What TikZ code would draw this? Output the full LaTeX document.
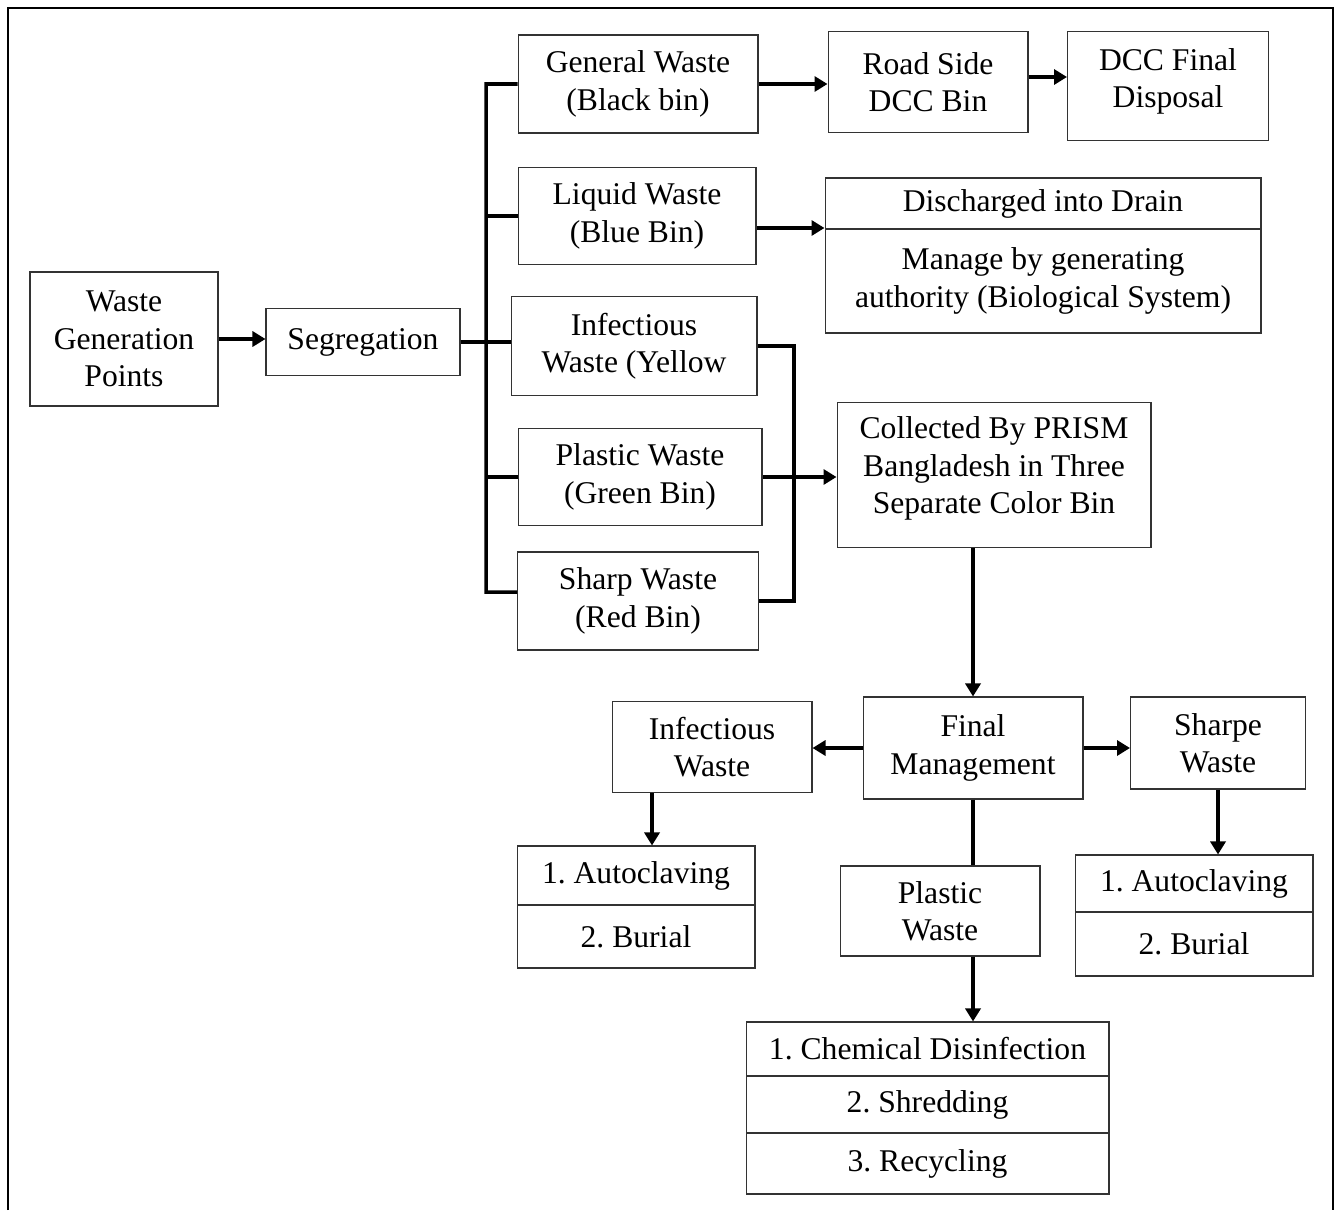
\documentclass[tikz,border=0pt]{standalone}
\usepackage{fontspec}
\setmainfont{Liberation Serif}
\usepackage{tikz}
\usetikzlibrary{arrows.meta}

\begin{document}
\begin{tikzpicture}[x=0.02cm,y=-0.02cm]
   \tikzstyle{myBox}=[draw=black!80, line width=0.6pt, align=center, inner sep=1pt,
                      font=\fontsize{18}{21.3}\selectfont\frenchspacing]
   \tikzstyle{myArr}=[line width=2pt, -{Triangle[length=0.26cm,width=0.3cm]}]
   \tikzstyle{myLine}=[line width=2pt]

   \useasboundingbox (0,0) rectangle (1338,1210);
   \draw[line width=1.2pt] (8,1210) -- (8,8) -- (1333,8) -- (1333,1210);

   % first column
   \node[myBox, minimum width=3.76cm, minimum height=2.68cm] (wgp) at (124,339) {Waste\\Generation\\Points};
   \node[myBox, minimum width=3.88cm, minimum height=1.34cm] (seg) at (363,342) {Segregation};

   % bins
   \node[myBox, minimum width=4.8cm, minimum height=1.96cm] (general) at (638,84) {General Waste\\(Black bin)};
   \node[myBox, minimum width=4.76cm, minimum height=1.94cm] (liquid) at (637,216) {Liquid Waste\\(Blue Bin)};
   \node[myBox, minimum width=4.92cm, minimum height=1.98cm] (infect) at (634,346) {Infectious\\Waste (Yellow};
   \node[myBox, minimum width=4.88cm, minimum height=1.94cm] (plastic) at (640,477) {Plastic Waste\\(Green Bin)};
   \node[myBox, minimum width=4.82cm, minimum height=1.96cm] (sharp) at (638,601) {Sharp Waste\\(Red Bin)};

   % right of the bins
   \node[myBox, minimum width=4.0cm, minimum height=2.02cm] (road) at (928,82) {Road Side\\DCC Bin};
   \node[myBox, minimum width=4.02cm, minimum height=2.18cm] (dcc) at (1168,86) {DCC Final\\Disposal\\[-0.43cm]};
   \node[myBox, minimum width=8.72cm, minimum height=1.02cm] (drain) at (1043,203.5) {Discharged into Drain};
   \node[myBox, minimum width=8.72cm, minimum height=2.08cm] (manage) at (1043,281) {Manage by generating\\authority (Biological System)};
   \node[myBox, minimum width=6.28cm, minimum height=2.9cm] (collected) at (994,475) {Collected By PRISM\\Bangladesh in Three\\Separate Color Bin\\[-0.35cm]};

   % final management
   \node[myBox, minimum width=4.4cm, minimum height=2.04cm] (final) at (973,748) {Final\\Management};
   \node[myBox, minimum width=4.0cm, minimum height=1.82cm] (infect2) at (712,747) {Infectious\\Waste};
   \node[myBox, minimum width=3.5cm, minimum height=1.84cm] (sharpe) at (1218,743) {Sharpe\\Waste};
   \node[myBox, minimum width=4.0cm, minimum height=1.8cm] (plastic2) at (940,911) {Plastic\\Waste};

   \node[myBox, minimum width=4.76cm, minimum height=1.18cm] (auto1) at (636,875.5) {1. Autoclaving};
   \node[myBox, minimum width=4.76cm, minimum height=1.26cm] (burial1) at (636,936.5) {2. Burial};
   \node[myBox, minimum width=4.76cm, minimum height=1.14cm] (auto2) at (1194,883.5) {1. Autoclaving};
   \node[myBox, minimum width=4.76cm, minimum height=1.28cm] (burial2) at (1194,944) {2. Burial};
   \node[myBox, minimum width=7.26cm, minimum height=1.08cm] (chem) at (927.5,1049) {1. Chemical Disinfection};
   \node[myBox, minimum width=7.26cm, minimum height=1.14cm] (shred) at (927.5,1104.5) {2. Shredding};
   \node[myBox, minimum width=7.26cm, minimum height=1.22cm] (recyc) at (927.5,1163.5) {3. Recycling};

   % connectors
   \coordinate (busL) at (486,0);
   \coordinate (busR) at (794,0);
   \draw[myArr] (wgp.east) -- (wgp.east -| seg.west);
   \draw[myLine] (seg.east) -- (seg.east -| infect.west);
   \draw[myLine] (general.west) -| (busL |- 0,592) -- ([yshift=0.18cm]sharp.west);
   \draw[myLine] (busL |- liquid.west) -- (liquid.west);
   \draw[myLine] (busL |- plastic.west) -- (plastic.west);
   \draw[myArr] (general.east) -- (general.east -| road.west);
   \draw[myArr] ([yshift=0.1cm]road.east) -- ([yshift=0.1cm]road.east -| dcc.west);
   \draw[myArr] ([yshift=-0.24cm]liquid.east) -- ([yshift=-0.24cm]liquid.east -| drain.west);
   \draw[myLine] (infect.east) -| (busR |- sharp.east) -- (sharp.east);
   \draw[myArr] (plastic.east) -- (plastic.east -| collected.west);
   \draw[myArr] (final.north |- collected.south) -- (final.north);
   \draw[myArr] (final.west) -- (final.west -| infect2.east);
   \draw[myArr] (final.east) -- (final.east -| sharpe.west);
   \draw[myLine] (final.south) -- (final.south |- plastic2.north);
   \draw[myArr] (plastic2.south -| final.south) -- (chem.north -| final.south);
   \draw[myArr] ([xshift=-1.2cm]infect2.south) -- ([xshift=-1.2cm]infect2.south |- auto1.north);
   \draw[myArr] (sharpe.south) -- (sharpe.south |- auto2.north);
\end{tikzpicture}
\end{document}
